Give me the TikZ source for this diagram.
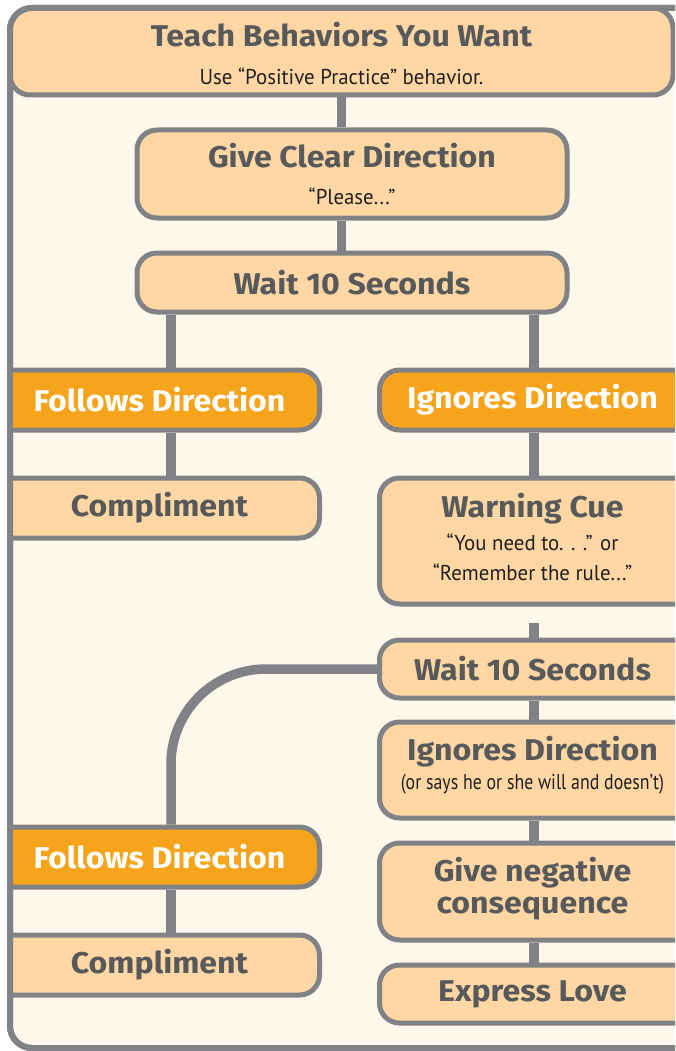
\documentclass[tikz,border=0pt]{standalone}
\usepackage{fontspec}
\usepackage{tikz}
\usetikzlibrary{calc}
\newfontfamily\hdfont[FakeStretch=1.07]{Fira Sans}
\newfontfamily\sbfont[FakeStretch=0.97]{PT Sans}
\newfontfamily\sbtight[FakeStretch=0.83]{PT Sans}
\definecolor{edgegray}{HTML}{808285}
\definecolor{peach}{HTML}{FED7A4}
\definecolor{cream}{HTML}{FDF8EC}
\definecolor{amber}{HTML}{F7A41D}
\definecolor{headgray}{HTML}{58595B}
\definecolor{subblack}{HTML}{231F20}
\newcommand{\subtxt}[1]{{\sbfont\mdseries\fontsize{21.5}{33}\selectfont\color{subblack}#1}}
\newcommand{\tightsub}[1]{{\sbtight\mdseries\fontsize{21.5}{33}\selectfont\color{subblack}#1}}

\begin{document}
\begin{tikzpicture}[
  x=1pt, y=-1pt,
  frame/.style={draw=edgegray, line width=6pt, rounded corners=22pt},
  box/.style={draw=edgegray, line width=5pt, fill=peach, rounded corners=20pt, inner sep=0pt},
  boxtxt/.style={font=\hdfont\bfseries\fontsize{30}{33}\selectfont, text=headgray, align=center},
  whtxt/.style={boxtxt, text=white},
  lbox/.style 2 args={box, anchor=east, minimum width=360pt, label={[#1,xshift=20pt]center:{#2}}},
  rbox/.style 2 args={box, anchor=west, minimum width=360pt, label={[#1,xshift=-27pt]center:{#2}}},
  conn/.style={draw=edgegray, line width=9.5pt}
]
\useasboundingbox (0,0) rectangle (675,1051);
\clip (0,0) rectangle (675,1051);
\fill[white] (0,0) rectangle (675,1051);
\path[frame, fill=cream] (10,8) rectangle (720,1048);
\coordinate (lx) at (171,0);
\coordinate (rx) at (534,0);
\begin{scope}
\clip[rounded corners=22pt] (10,8) rectangle (720,1048);
\node[box, boxtxt, minimum width=663pt, minimum height=87pt] (teach) at (341.5,51.5)
 {\rule{0pt}{29pt}Teach Behaviors You Want\\[5pt]\subtxt{Use “Positive Practice” behavior.}};
\node[box, boxtxt, minimum width=430pt, minimum height=88pt] (clear) at (352,174)
 {Give Clear Direction\\[4pt]\subtxt{“Please...”}};
\node[box, boxtxt, minimum width=430pt, minimum height=59pt] (wait1) at (352,282.5) {Wait 10 Seconds};
\node[lbox={whtxt}{Follows Direction}, fill=amber, minimum height=60pt] (fol1) at (322,400) {};
\node[rbox={whtxt}{Ignores Direction}, fill=amber, minimum height=60pt] (ign1) at (377,400) {};
\node[lbox={boxtxt}{Compliment}, minimum height=60pt] (comp1) at (322,508) {};
\node[rbox={boxtxt,yshift=4pt}{Warning Cue\\\subtxt{“You need to. . .” or}\\[-3pt]\subtxt{“Remember the rule...”}}, minimum height=126pt] (warn) at (377,541) {};
\node[rbox={boxtxt}{Wait 10 Seconds}, minimum height=58pt] (wait2) at (377,669) {};
\node[rbox={boxtxt,yshift=5pt}{Ignores Direction\\[-4pt]\tightsub{(or says he or she will and doesn’t)}}, minimum height=96pt] (ign2) at (377,770) {};
\node[lbox={whtxt}{Follows Direction}, fill=amber, minimum height=60pt] (fol2) at (322,857) {};
\node[lbox={boxtxt}{Compliment}, minimum height=60pt] (comp2) at (322,965) {};
\node[rbox={boxtxt,yshift=3pt}{Give negative\\[-1pt]consequence}, minimum height=97pt] (neg) at (377,891.5) {};
\node[rbox={boxtxt}{Express Love}, minimum height=58pt] (love) at (377,994) {};
\end{scope}
\draw[frame] (10,8) rectangle (720,1048);
\coordinate (cut) at ($(warn.south -| rx)+(0,16)$);
\draw[conn] (teach.south) -- (clear.north -| teach.south);
\draw[conn] (clear.south -| teach.south) -- (wait1.north -| teach.south);
\draw[conn] (wait1.south -| lx) -- (fol1.north -| lx);
\draw[conn] (wait1.south -| rx) -- (ign1.north -| rx);
\draw[conn] (fol1.south -| lx) -- (comp1.north -| lx);
\draw[conn] (ign1.south -| rx) -- (warn.north -| rx);
\draw[conn] (cut) -- (wait2.north -| rx);
\draw[conn, rounded corners=95pt] (wait2.west) -| (fol2.north -| lx);
\draw[conn] (wait2.south -| rx) -- (ign2.north -| rx);
\draw[conn] (ign2.south -| rx) -- (neg.north -| rx);
\draw[conn] (fol2.south -| lx) -- (comp2.north -| lx);
\draw[conn] (neg.south -| rx) -- (love.north -| rx);
\end{tikzpicture}
\end{document}
